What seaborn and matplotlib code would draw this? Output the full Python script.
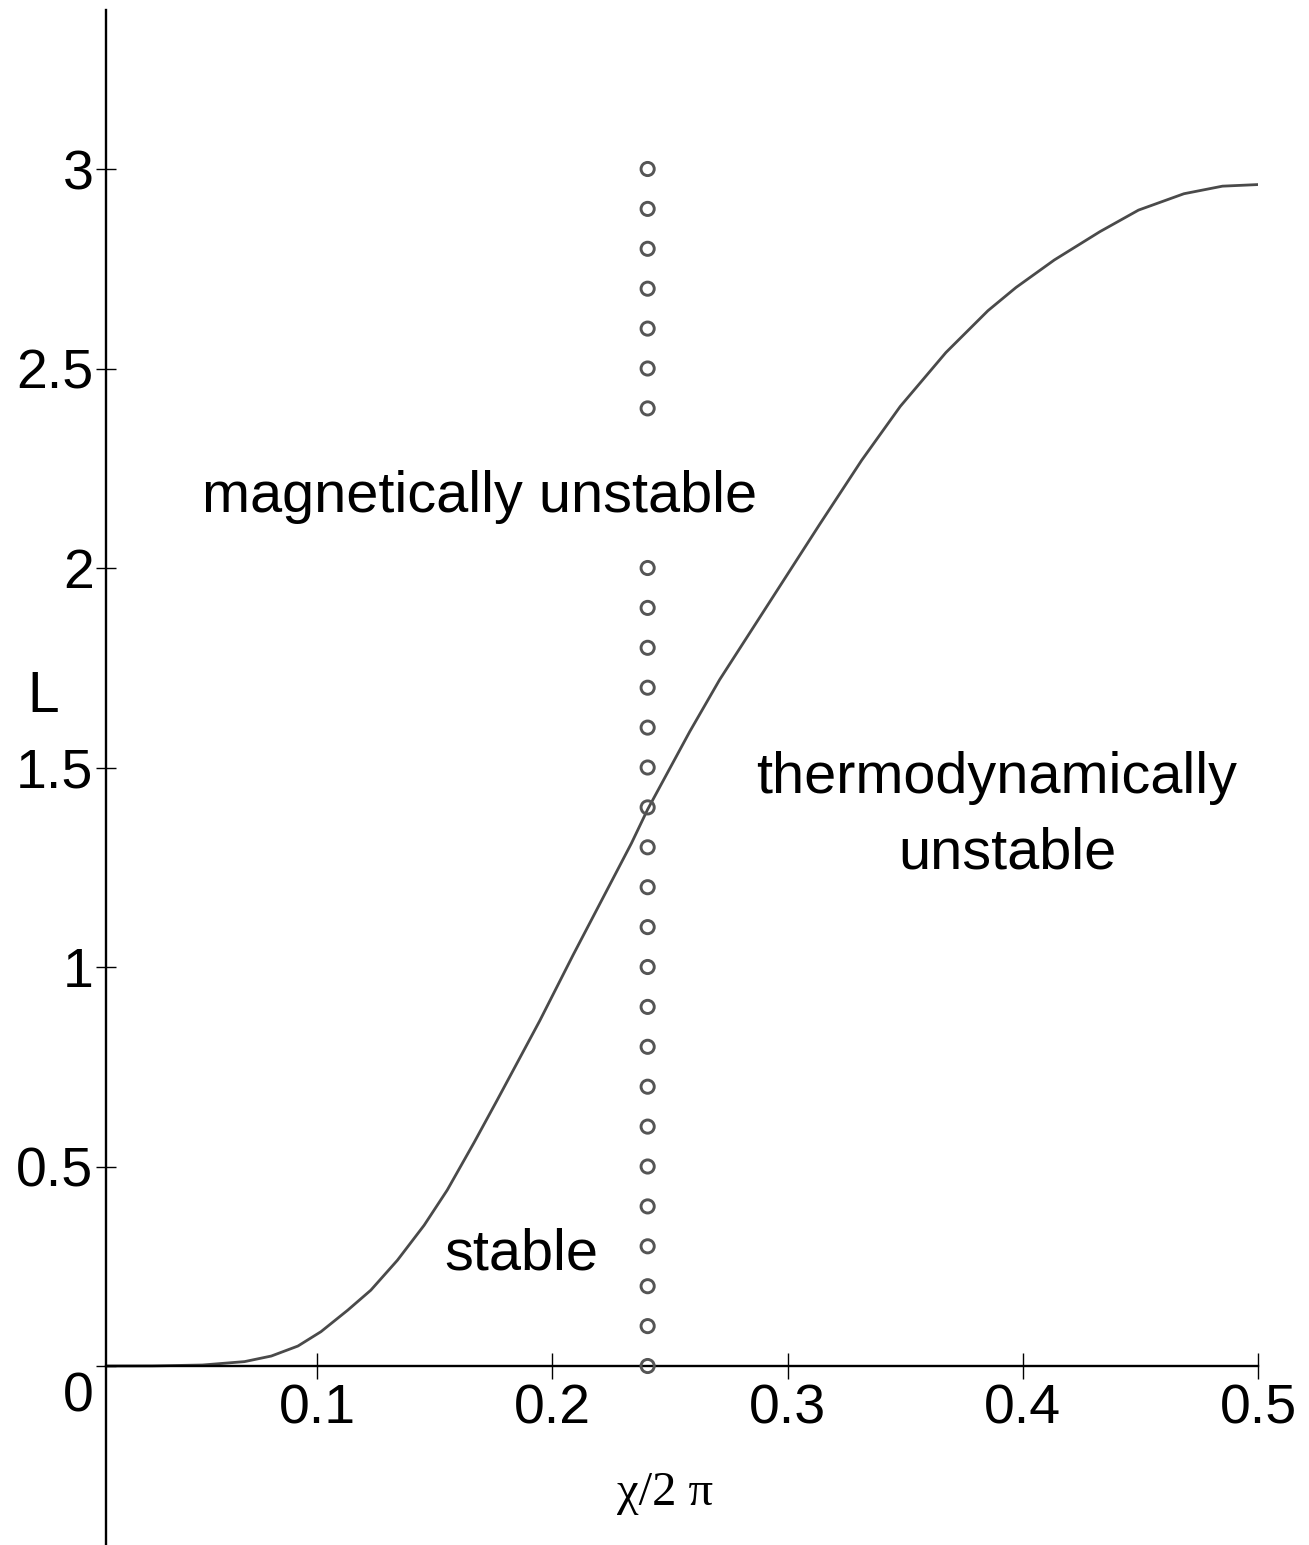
import numpy as np
import pandas as pd
import matplotlib
matplotlib.use("Agg")
import matplotlib.pyplot as plt
import seaborn as sns

## data
chi = [0.01, 0.03, 0.0512, 0.0691, 0.0805, 0.0918, 0.1016, 0.113, 0.1228, 0.1341,
       0.1455, 0.1553, 0.1667, 0.1764, 0.1946, 0.2088, 0.2336, 0.2405, 0.2584, 0.2711,
       0.2853, 0.2995, 0.3137, 0.3315, 0.3479, 0.3673, 0.3852, 0.3971, 0.4134, 0.4328,
       0.4492, 0.4685, 0.4849, 0.5]
L = [0.0, 0.0002, 0.0025, 0.011, 0.025, 0.05, 0.086, 0.14, 0.19, 0.265,
     0.353, 0.441, 0.56, 0.665, 0.865, 1.03, 1.31, 1.395, 1.59, 1.72,
     1.85, 1.98, 2.11, 2.27, 2.405, 2.54, 2.645, 2.703, 2.772, 2.843,
     2.897, 2.938, 2.957, 2.961]

circle_chi = 0.2405
circle_L = [0.0, 0.1, 0.2, 0.3, 0.4, 0.5, 0.6, 0.7, 0.8, 0.9, 1.0, 1.1, 1.2, 1.3,
            1.4, 1.5, 1.6, 1.7, 1.8, 1.9, 2.0, 2.4, 2.5, 2.6, 2.7, 2.8, 2.9, 3.0]

x_ticks = [0.1, 0.2, 0.3, 0.4, 0.5]
x_ticklabels = ["0.1", "0.2", "0.3", "0.4", "0.5"]
y_ticks = [0, 0.5, 1, 1.5, 2, 2.5, 3]
y_ticklabels = ["", "0.5", "1", "1.5", "2", "2.5", "3"]

curve = pd.DataFrame({"chi": chi, "L": L})
circles = pd.DataFrame({"chi": [circle_chi] * len(circle_L), "L": circle_L})

sns.set_style("white")
plt.rcParams["font.family"] = ["Liberation Sans", "DejaVu Sans"]
plt.rcParams["text.color"] = "black"
plt.rcParams["axes.labelcolor"] = "black"
plt.rcParams["xtick.color"] = "black"
plt.rcParams["ytick.color"] = "black"

W, H = 1309, 1545
fig = plt.figure(figsize=(W / 100, H / 100), dpi=100)
ax = fig.add_axes([105.5 / W, 0.0, (1258 - 105.5) / W, 1535 / H])

sns.lineplot(data=curve, x="chi", y="L", sort=False, estimator=None,
             color="#4a4a4a", linewidth=2.0, ax=ax)
sns.scatterplot(data=circles, x="chi", y="L", s=90, facecolor="none",
                edgecolor="#555555", linewidth=2.1, ax=ax, zorder=3, clip_on=False)

ax.set_xlim(0.01, 0.5)
ax.set_ylim(-0.4486, 3.3985)

# Maple-like axes crossing at the origin
for s in ["top", "right"]:
    ax.spines[s].set_visible(False)
ax.spines["bottom"].set_position(("data", 0))
for s in ["left", "bottom"]:
    ax.spines[s].set_linewidth(1.7)
    ax.spines[s].set_color("black")

ax.set_xticks(x_ticks)
ax.set_xticklabels(x_ticklabels)
ax.set_yticks(y_ticks)
ax.set_yticklabels(y_ticklabels)
ax.tick_params(axis="x", bottom=True, direction="inout", length=19, width=1.0,
               pad=3, labelsize=40, colors="black")
ax.tick_params(axis="y", left=True, direction="inout", length=14, width=1.0,
               pad=1.6, labelsize=40, colors="black")

ax.text(0.0051, -0.1145, "0", fontsize=40, ha="right", va="baseline")

ax.set_xlabel("\u03c7/2 \u03c0", fontsize=35, family=["Liberation Serif", "DejaVu Serif"])
ax.xaxis.set_label_coords((665 - 105.5) / 1152.5, (1545 - 1505) / 1535)
ax.xaxis.label.set_va("baseline")
ax.set_ylabel("L", fontsize=41, rotation=0)
ax.yaxis.set_label_coords((43 - 105.5) / 1152.5, (1545 - 712) / 1535)
ax.yaxis.label.set_va("baseline")
ax.yaxis.label.set_ha("center")

ax.text(0.1691, 2.140, "magnetically unstable", fontsize=41.5, ha="center", va="baseline")
ax.text(0.389, 1.436, "thermodynamically", fontsize=41.5, ha="center", va="baseline")
ax.text(0.3935, 1.246, "unstable", fontsize=41.5, ha="center", va="baseline")
ax.text(0.187, 0.243, "stable", fontsize=41.5, ha="center", va="baseline")

fig.savefig("out.png", dpi=100)
